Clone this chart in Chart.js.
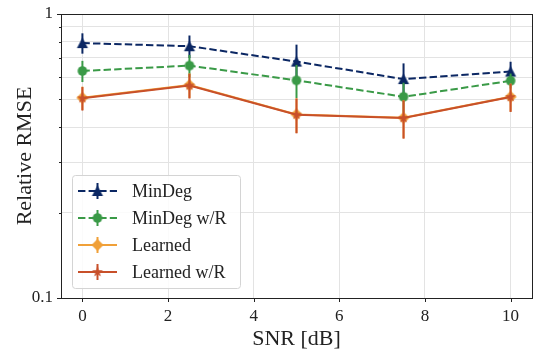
<!DOCTYPE html>
<html>
<head>
<meta charset="utf-8">
<script src="https://cdn.jsdelivr.net/npm/chart.js@4/dist/chart.umd.min.js"></script>
<style>
  html, body { margin: 0; padding: 0; background: #fff; }
</style>
</head>
<body>
<canvas id="chart" width="540" height="358"></canvas>
<script>
// ---------------- data ----------------
const snr = [0, 2.5, 5, 7.5, 10];
const xTicks = [0, 2, 4, 6, 8, 10];
const yTicks = [0.1, 0.2, 0.3, 0.4, 0.5, 0.6, 0.7, 0.8, 0.9, 1];
const yLabels = [0.1, 1];
const seriesNames = ["MinDeg", "MinDeg w/R", "Learned", "Learned w/R"];

const minDeg      = [0.790, 0.770, 0.680, 0.590, 0.627];
const minDegErr   = [0.065, 0.070, 0.100, 0.080, 0.052];
const minDegR     = [0.630, 0.658, 0.584, 0.511, 0.582];
const minDegRErr  = [0.054, 0.060, 0.078, 0.062, 0.035];
const learned     = [0.507, 0.562, 0.443, 0.431, 0.511];
const learnedErr  = [0.048, 0.056, 0.062, 0.066, 0.058];
const learnedR    = [0.505, 0.560, 0.442, 0.430, 0.510];
const learnedRErr = [0.048, 0.056, 0.062, 0.066, 0.058];

const FONT = "'Liberation Serif', 'Times New Roman', serif";
const NAVY = "#0b2763", GREEN = "#3a9a47", ORANGE = "#f0a038", RED = "#c8502a";
const DASH = [7.4, 3.2];

// marker images (matplotlib-like filled markers)
function makeMarker(shape, color) {
  const c = document.createElement("canvas");
  c.width = 16; c.height = 16;
  const g = c.getContext("2d");
  const m = 8;
  g.fillStyle = color;
  g.beginPath();
  if (shape === "triangle") {
    g.moveTo(m, m - 5.5); g.lineTo(m + 5.5, m + 5); g.lineTo(m - 5.5, m + 5);
  } else if (shape === "circle") {
    g.arc(m, m, 4.8, 0, Math.PI * 2);
  } else if (shape === "diamond") {
    g.moveTo(m, m - 6); g.lineTo(m + 6, m); g.lineTo(m, m + 6); g.lineTo(m - 6, m);
  } else if (shape === "star") {
    for (let i = 0; i < 10; i++) {
      const r = i % 2 === 0 ? 5.6 : 2.3;
      const a = -Math.PI / 2 + i * Math.PI / 5;
      const px = m + r * Math.cos(a), py = m + r * Math.sin(a);
      i === 0 ? g.moveTo(px, py) : g.lineTo(px, py);
    }
  }
  g.closePath();
  g.fill();
  return c;
}

const series = [
  { name: seriesNames[0], data: minDeg,   err: minDegErr,   color: NAVY,   dash: DASH, marker: makeMarker("triangle", NAVY) },
  { name: seriesNames[1], data: minDegR,  err: minDegRErr,  color: GREEN,  dash: DASH, marker: makeMarker("circle", GREEN) },
  { name: seriesNames[2], data: learned,  err: learnedErr,  color: ORANGE, dash: [],   marker: makeMarker("diamond", ORANGE) },
  { name: seriesNames[3], data: learnedR, err: learnedRErr, color: RED,    dash: [],   marker: makeMarker("star", RED) }
];

// error bars drawn right before each dataset, so later series sit on top
const errorBars = {
  id: "errorBars",
  beforeDatasetDraw(chart, args) {
    const s = series[args.index];
    const ctx = chart.ctx, x = chart.scales.x, y = chart.scales.y;
    ctx.save();
    ctx.strokeStyle = s.color;
    ctx.lineWidth = 2;
    s.data.forEach((v, i) => {
      const px = x.getPixelForValue(snr[i]);
      ctx.beginPath();
      ctx.moveTo(px, y.getPixelForValue(v + s.err[i]));
      ctx.lineTo(px, y.getPixelForValue(v - s.err[i]));
      ctx.stroke();
    });
    ctx.restore();
  }
};

// frame, tick marks and the legend box
const decorations = {
  id: "decorations",
  afterDraw(chart) {
    const ctx = chart.ctx, a = chart.chartArea;
    const x = chart.scales.x, y = chart.scales.y;
    ctx.save();
    ctx.strokeStyle = "#222";
    ctx.lineWidth = 1;
    ctx.strokeRect(Math.round(a.left) + 0.5, Math.round(a.top) + 0.5,
                   Math.round(a.right - a.left), Math.round(a.bottom - a.top));
    ctx.beginPath();
    xTicks.forEach(t => {
      const px = Math.round(x.getPixelForValue(t)) + 0.5;
      ctx.moveTo(px, a.bottom); ctx.lineTo(px, a.bottom + 4);
    });
    yTicks.forEach(t => {
      const py = Math.round(y.getPixelForValue(t)) + 0.5;
      const len = yLabels.includes(t) ? 4 : 2;
      ctx.moveTo(a.left, py); ctx.lineTo(a.left - len, py);
    });
    ctx.stroke();

    // legend
    const bx = 72.5, by = 175.5, bw = 168, bh = 113;
    ctx.fillStyle = "rgba(255,255,255,0.85)";
    ctx.strokeStyle = "#d4d4d4";
    ctx.beginPath();
    ctx.roundRect(bx, by, bw, bh, 3);
    ctx.fill();
    ctx.stroke();
    ctx.font = "18px " + FONT;
    ctx.textBaseline = "alphabetic";
    series.forEach((s, i) => {
      const cy = 191 + i * 27;
      ctx.strokeStyle = s.color;
      ctx.lineWidth = 2;
      ctx.setLineDash(s.dash);
      ctx.beginPath(); ctx.moveTo(78, cy); ctx.lineTo(117, cy); ctx.stroke();
      ctx.setLineDash([]);
      ctx.beginPath(); ctx.moveTo(97.5, cy - 8); ctx.lineTo(97.5, cy + 8); ctx.stroke();
      ctx.drawImage(s.marker, 97.5 - 8, cy - 8);
      ctx.fillStyle = "#222";
      ctx.fillText(s.name, 132, cy + 6);
    });
    ctx.restore();
  }
};

new Chart(document.getElementById("chart"), {
  type: "line",
  data: {
    datasets: series.map((s, i) => ({
      label: s.name,
      data: snr.map((v, j) => ({ x: v, y: s.data[j] })),
      borderColor: s.color,
      backgroundColor: s.color,
      borderWidth: 2,
      borderDash: s.dash,
      pointStyle: s.marker,
      pointRadius: 6,
      pointHoverRadius: 6,
      tension: 0,
      fill: false,
      order: series.length - i
    }))
  },
  options: {
    responsive: false,
    animation: false,
    layout: { padding: { top: 14, right: 8, left: 0, bottom: 0 } },
    plugins: { legend: { display: false }, tooltip: { enabled: false } },
    scales: {
      x: {
        type: "linear",
        min: -0.5,
        max: 10.5,
        afterBuildTicks: sc => { sc.ticks = xTicks.map(v => ({ value: v })); },
        afterFit: sc => { sc.height = 60; sc.paddingLeft = 0; sc.paddingRight = 0; },
        grid: { color: "#e3e3e3", lineWidth: 1, drawTicks: false },
        border: { display: false },
        ticks: { color: "#222", font: { family: FONT, size: 17 }, padding: 8, maxRotation: 0 },
        title: { display: true, text: "SNR [dB]", color: "#222", font: { family: FONT, size: 22 }, padding: { top: 0, bottom: 6 } }
      },
      y: {
        type: "logarithmic",
        min: 0.1,
        max: 1,
        afterBuildTicks: sc => { sc.ticks = yTicks.map(v => ({ value: v })); },
        afterFit: sc => { sc.width = 61; sc.paddingTop = 0; sc.paddingBottom = 0; },
        grid: { color: "#e3e3e3", lineWidth: 1, drawTicks: false },
        border: { display: false },
        ticks: {
          color: "#222",
          font: { family: FONT, size: 17 },
          padding: 8,
          autoSkip: false,
          callback: v => (yLabels.includes(v) ? String(v) : "")
        },
        title: { display: true, text: "Relative RMSE", color: "#222", font: { family: FONT, size: 22 }, padding: { top: 12, bottom: 0 } }
      }
    }
  },
  plugins: [errorBars, decorations]
});
</script>
</body>
</html>
